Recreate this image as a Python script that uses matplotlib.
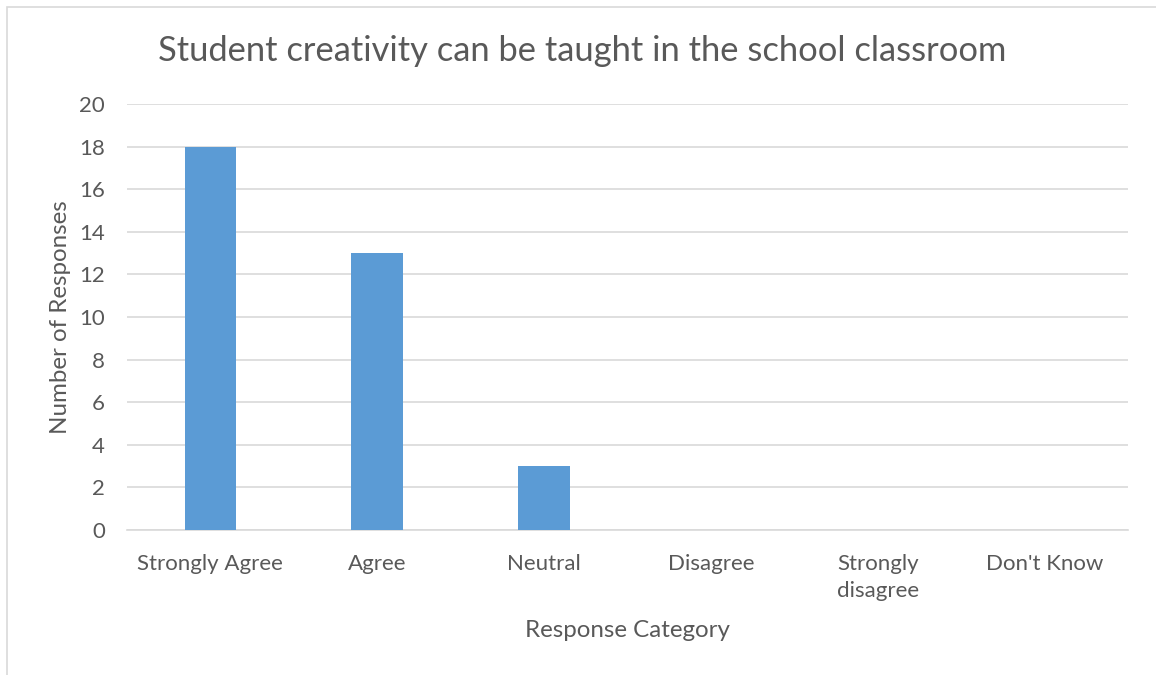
import matplotlib.pyplot as plt
from matplotlib.patches import Rectangle

categories = ["Strongly Agree", "Agree", "Neutral", "Disagree", "Strongly\ndisagree", "Don't Know"]
responses = [18, 13, 3, 0, 0, 0]
yticks = [0, 2, 4, 6, 8, 10, 12, 14, 16, 18, 20]

plt.rcParams['font.family'] = ['Lato', 'DejaVu Sans']
text_col = '#595959'
grid_col = '#d9d9d9'

W, H = 1156, 675
fig = plt.figure(figsize=(W / 100, H / 100), dpi=100)
ax = fig.add_axes([127 / W, 1 - 530 / H, (1128 - 127) / W, (530 - 104) / H])

x = range(len(categories))
ax.bar(x, responses, width=0.31, color='#5b9bd5', zorder=3)

ax.set_xlim(-0.5, len(categories) - 0.5)
ax.set_ylim(0, 20)
ax.set_yticks(yticks)
ax.set_xticks(list(x))
ax.set_xticklabels(categories, linespacing=1.45)
ax.yaxis.grid(True, color=grid_col, linewidth=1.2, zorder=0)
for s in ['top', 'right', 'left']:
    ax.spines[s].set_visible(False)
ax.spines['bottom'].set_color(grid_col)
ax.spines['bottom'].set_linewidth(1.2)
ax.tick_params(length=0, labelsize=16, colors=text_col)
ax.tick_params(axis='x', pad=17)
ax.tick_params(axis='y', pad=16)

ax.set_xlabel("Response Category", fontsize=17.4, color=text_col, labelpad=14)
ax.set_ylabel("Number of Responses", fontsize=17.4, color=text_col, labelpad=6)

fig.text(582 / W, 1 - 51 / H, "Student creativity can be taught in the school classroom",
         ha='center', va='center', fontsize=24.8, color=text_col)

# light chart-area border
fig.patches.append(Rectangle((6.5 / W, -0.05), 1.1, 1 - 6.5 / H + 0.05,
                             transform=fig.transFigure, fill=False,
                             edgecolor=grid_col, linewidth=1.2))

fig.savefig("out.png", dpi=100)
